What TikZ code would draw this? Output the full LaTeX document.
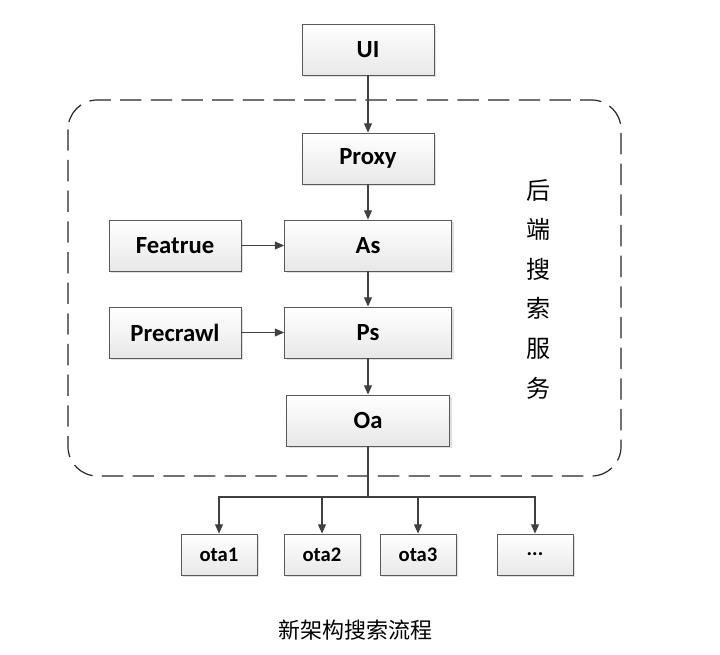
\documentclass[tikz,border=0pt]{standalone}
\usepackage{fontspec}
\setmainfont{Carlito}
\newfontfamily\cjk{Noto Sans CJK SC}
\usetikzlibrary{arrows.meta,shadows}

\begin{document}
\begin{tikzpicture}[x=0.75pt,y=-0.75pt,
    box/.style={draw=gray!70!black, line width=0.6pt, top color=white, bottom color=gray!18,
      drop shadow={shadow xshift=1.5pt, shadow yshift=-1.5pt, fill=gray!40, opacity=0.6},
      minimum height=38.25pt, inner sep=0pt, font=\bfseries\fontsize{18.5}{22}\selectfont},
    small/.style={box, minimum width=57pt, minimum height=30.75pt, font=\bfseries\fontsize{15.5}{18}\selectfont},
    link/.style={-{Triangle[length=7pt,width=6pt]}, draw=black!75, line width=0.8pt}]

    % Define parameters
    \def\cx{368}
    \useasboundingbox (0,0) rectangle (720,655);

    % Backend group
    \draw[gray!30!black, line width=0.9pt, dash pattern=on 16pt off 7pt, rounded corners=22pt]
        (68,100) rectangle (621,476);
    \node[font=\cjk\fontsize{18}{29.7}\selectfont, align=center] (backend) at (538,289)
        {后\\端\\搜\\索\\服\\务};

    % Main chain
    \node[box, minimum width=99pt] (ui) at (\cx,49.5) {UI};
    \node[box, minimum width=99pt] (proxy) at (\cx,158.5) {Proxy};
    \node[box, minimum width=125.25pt] (as) at (\cx,245.5) {As};
    \node[box, minimum width=125.25pt] (ps) at (\cx,332.5) {Ps};
    \node[box, minimum width=122.25pt] (oa) at (\cx,420.5) {Oa};
    \node[box, minimum width=99pt] (featrue) at (175,245.5) {Featrue};
    \node[box, minimum width=99pt] (precrawl) at (175,332.5) {Precrawl};

    \draw[link] (ui) -- (proxy);
    \draw[link] (proxy) -- (as);
    \draw[link] (as) -- (ps);
    \draw[link] (ps) -- (oa);
    \draw[link] (featrue) -- (as);
    \draw[link] (precrawl) -- (ps);

    % Ota nodes
    \node[small] (ota1) at (219,554.5) {ota1};
    \node[small] (ota2) at (322,554.5) {ota2};
    \node[small] (ota3) at (418,554.5) {ota3};
    \node[small] (more) at (535,554.5) {...};

    \coordinate (split) at (\cx,497);
    \draw[draw=black!75, line width=0.8pt] (oa) -- (split);
    \foreach \n in {ota1,ota2,ota3,more}
        \draw[link] (split) -| (\n);

    % Caption
    \node[font=\cjk\fontsize{16.5}{20}\selectfont] (caption) at (355,630) {新架构搜索流程};
\end{tikzpicture}
\end{document}
